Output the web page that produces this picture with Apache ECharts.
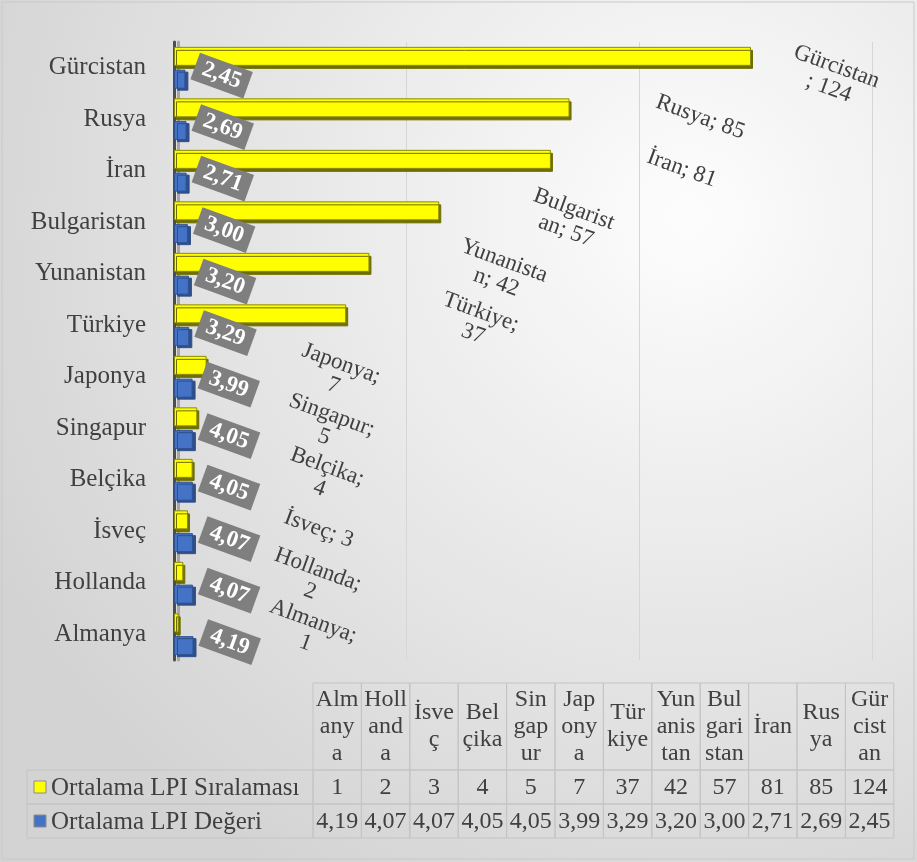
<!DOCTYPE html>
<html>
<head>
<meta charset="utf-8">
<script src="https://cdn.jsdelivr.net/npm/echarts@6/dist/echarts.min.js"></script>
<style>
html,body{margin:0;padding:0;background:#fff;}
#chart{width:917px;height:862px;}
</style>
</head>
<body>
<div id="chart"></div>
<script>
// ---- data ----
const categories = ['Almanya','Hollanda','İsveç','Belçika','Singapur','Japonya','Türkiye','Yunanistan','Bulgaristan','İran','Rusya','Gürcistan'];
const rankValues = [1,2,3,4,5,7,37,42,57,81,85,124];
const lpiValues = [4.19,4.07,4.07,4.05,4.05,3.99,3.29,3.20,3.00,2.71,2.69,2.45];
const tableHeaders = ['Alm\nany\na','Holl\nand\na','İsve\nç','Bel\nçika','Sin\ngap\nur','Jap\nony\na','Tür\nkiye','Yun\nanis\ntan','Bul\ngari\nstan','İran','Rus\nya','Gür\ncist\nan'];
const seriesNames = ['Ortalama LPI Sıralaması','Ortalama LPI Değeri'];
const xTicks = [0, 50, 100, 150];

// ---- helpers ----
const serif = '"Liberation Serif","Times New Roman",serif';
const txtColor = '#404040';
function fmtComma(v){ return v.toFixed(2).replace('.', ','); }
function wrapLabel(s, w){
  if (s.length <= w) return s;
  const sp = s.lastIndexOf(' ', w);
  if (sp > 0 && sp <= w) return s.slice(0, sp) + '\n' + s.slice(sp + 1);
  return s.slice(0, w) + '\n' + s.slice(w);
}

const chart = echarts.init(document.getElementById('chart'), null, {renderer:'canvas'});

// table geometry
const tX0 = 313, tColW = 48.4, tTop = 683, tHeadH = 87, tRowH = 34, tLeft = 27;
const tFont = '24px ' + serif;
const graphics = [];
graphics.push({type:'rect', shape:{x:2,y:2,width:912,height:857}, style:{fill:'none', stroke:'#c9c9c9', lineWidth:1}, z:0});
categories.forEach((c, i) => {
  const x = tX0 + i * tColW;
  graphics.push({type:'rect', shape:{x:x, y:tTop, width:tColW, height:tHeadH}, style:{fill:'none', stroke:'#c4c4c4', lineWidth:1}});
  graphics.push({type:'text', style:{text:tableHeaders[i], x:x + tColW/2, y:tTop + tHeadH/2, align:'center', verticalAlign:'middle', font:tFont, fill:txtColor, lineHeight:27}});
  [rankValues[i] + '', fmtComma(lpiValues[i])].forEach((t, r) => {
    const y = tTop + tHeadH + r * tRowH;
    graphics.push({type:'rect', shape:{x:x, y:y, width:tColW, height:tRowH}, style:{fill:'none', stroke:'#c4c4c4', lineWidth:1}});
    graphics.push({type:'text', style:{text:t, x:x + tColW/2, y:y + tRowH/2 + 1, align:'center', verticalAlign:'middle', font:tFont, fill:txtColor}});
  });
});
const legendColors = ['#ffff00','#4472c4'];
seriesNames.forEach((n, r) => {
  const y = tTop + tHeadH + r * tRowH;
  graphics.push({type:'rect', shape:{x:tLeft, y:y, width:tX0 - tLeft, height:tRowH}, style:{fill:'none', stroke:'#c4c4c4', lineWidth:1}});
  graphics.push({type:'rect', shape:{x:34, y:y + tRowH/2 - 6, width:12, height:12}, style:{fill:legendColors[r], stroke:'#8c8c8c', lineWidth:1}});
  graphics.push({type:'text', style:{text:n, x:51, y:y + tRowH/2 + 1, align:'left', verticalAlign:'middle', font:'25px ' + serif, fill:txtColor}});
});

const rankData = rankValues.map((v, i) => {
  if (categories[i] === 'Gürcistan') return {value:v, label:{offset:[84, -8]}};
  return v;
});

const option = {
  backgroundColor: new echarts.graphic.RadialGradient(0.75, 0.25, 0.9, [
    {offset:0, color:'#fdfdfd'}, {offset:1, color:'#d3d3d3'}
  ]),
  animation:false,
  grid:{left:174, right:45, top:42, bottom:202},
  xAxis:{
    type:'value', min:xTicks[0], max:xTicks[xTicks.length-1], interval:xTicks[1]-xTicks[0],
    axisLabel:{show:false}, axisLine:{show:false}, axisTick:{show:false},
    splitLine:{show:true, lineStyle:{color:'#d6d6d6', width:1}}
  },
  yAxis:{
    type:'category', data:categories,
    axisLine:{show:true, lineStyle:{color:'#4d4d4d', width:3, shadowColor:'#a6a6a6', shadowOffsetX:4, shadowBlur:0}},
    axisTick:{show:false},
    axisLabel:{color:txtColor, fontFamily:serif, fontSize:25, margin:28}
  },
  series:[
    {
      name:seriesNames[0], type:'bar', data:rankData,
      barWidth:19, barGap:'20%',
      itemStyle:{color:'#ffff00', borderColor:'#8c8c00', borderWidth:1, shadowColor:'#6e6e00', shadowOffsetX:2, shadowOffsetY:3, shadowBlur:0},
      label:{
        show:true, position:'right', distance:0, rotate:-20, align:'center', verticalAlign:'middle',
        offset:[126, -36],
        color:txtColor, fontFamily:serif, fontSize:23, lineHeight:23,
        formatter:(p) => wrapLabel(p.name + '; ' + p.value, 9)
      }
    },
    {
      name:seriesNames[1], type:'bar', data:lpiValues,
      barWidth:19,
      itemStyle:{color:'#4472c4', borderColor:'#2f528f', borderWidth:1, shadowColor:'#2f4f8a', shadowOffsetX:3, shadowOffsetY:2, shadowBlur:0},
      label:{
        show:true, position:'right', distance:5, rotate:-20,
        offset:[0, -14],
        backgroundColor:'#7f7f7f', padding:[3,8,2,8],
        color:'#ffffff', fontFamily:serif, fontWeight:'bold', fontSize:23,
        formatter:(p) => fmtComma(p.value)
      }
    }
  ],
  graphic:graphics
};
chart.setOption(option);
</script>
</body>
</html>
